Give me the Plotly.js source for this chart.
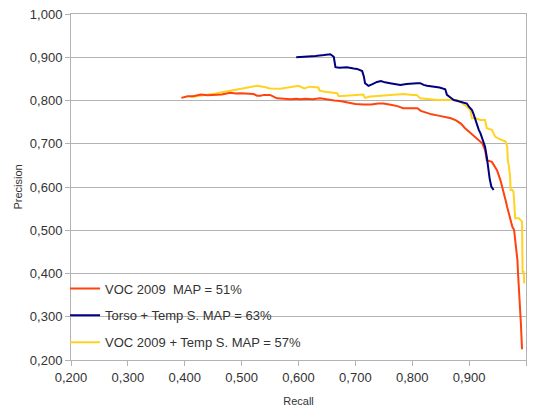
<!DOCTYPE html>
<html>
<head>
<meta charset="utf-8">
<script src="https://cdn.plot.ly/plotly-3.0.1.min.js"></script>
<style>html,body{margin:0;padding:0;background:#fff;}#chart{width:536px;height:407px;}</style>
</head>
<body>
<div id="chart"></div>
<script>
// VOC 2009  MAP = 51%
const vocRecall = [0.394,0.405,0.415,0.428,0.440,0.450,0.465,0.480,0.490,0.498,0.508,0.515,0.521,0.527,0.533,0.540,0.550,0.556,0.562,0.575,0.586,0.596,0.603,0.612,0.625,0.638,0.650,0.663,0.673,0.685,0.700,0.714,0.728,0.740,0.749,0.762,0.774,0.784,0.796,0.809,0.815,0.822,0.834,0.846,0.858,0.868,0.877,0.886,0.892,0.900,0.906,0.914,0.923,0.928,0.931,0.940,0.949,0.955,0.960,0.964,0.967,0.970,0.973,0.976,0.979,0.981,0.983,0.985,0.986,0.987,0.988,0.989,0.990,0.991,0.992,0.993];
const vocPrecision = [0.806,0.810,0.810,0.814,0.812,0.813,0.814,0.818,0.816,0.817,0.816,0.814,0.815,0.811,0.811,0.813,0.813,0.809,0.805,0.804,0.803,0.804,0.803,0.804,0.803,0.805,0.802,0.800,0.799,0.796,0.792,0.791,0.791,0.793,0.793,0.790,0.787,0.782,0.782,0.782,0.776,0.773,0.768,0.765,0.762,0.759,0.754,0.746,0.737,0.728,0.722,0.713,0.701,0.686,0.662,0.658,0.639,0.616,0.593,0.570,0.553,0.539,0.522,0.508,0.501,0.477,0.455,0.430,0.400,0.380,0.362,0.330,0.300,0.285,0.255,0.225];

// Torso + Temp S. MAP = 63%
const torsoRecall = [0.596,0.615,0.630,0.645,0.656,0.662,0.665,0.672,0.685,0.697,0.703,0.712,0.715,0.717,0.723,0.730,0.738,0.745,0.752,0.761,0.770,0.779,0.790,0.800,0.808,0.814,0.820,0.826,0.838,0.848,0.858,0.861,0.866,0.873,0.880,0.890,0.896,0.900,0.905,0.908,0.911,0.914,0.917,0.920,0.923,0.926,0.928,0.931,0.934,0.936,0.939,0.941,0.943];
const torsoPrecision = [0.900,0.901,0.903,0.905,0.907,0.901,0.877,0.876,0.877,0.874,0.873,0.868,0.855,0.840,0.834,0.838,0.843,0.845,0.842,0.840,0.838,0.836,0.838,0.840,0.840,0.840,0.836,0.834,0.832,0.830,0.826,0.813,0.808,0.801,0.799,0.796,0.793,0.785,0.778,0.768,0.755,0.745,0.732,0.724,0.713,0.705,0.693,0.670,0.639,0.620,0.601,0.597,0.593];

// VOC 2009 + Temp S. MAP = 57%
const vocTempRecall = [0.410,0.424,0.440,0.455,0.470,0.486,0.503,0.515,0.527,0.540,0.550,0.568,0.585,0.600,0.610,0.620,0.635,0.637,0.647,0.660,0.668,0.671,0.690,0.714,0.717,0.726,0.745,0.765,0.785,0.800,0.808,0.814,0.830,0.844,0.860,0.879,0.884,0.892,0.896,0.902,0.905,0.911,0.920,0.928,0.931,0.940,0.946,0.955,0.964,0.967,0.968,0.970,0.972,0.973,0.976,0.978,0.980,0.981,0.984,0.987,0.993,0.993,0.994,0.996,0.997];
const vocTempPrecision = [0.808,0.810,0.813,0.816,0.820,0.824,0.827,0.830,0.834,0.831,0.828,0.827,0.830,0.834,0.828,0.832,0.830,0.823,0.820,0.818,0.817,0.810,0.812,0.814,0.806,0.809,0.811,0.813,0.815,0.813,0.813,0.805,0.803,0.801,0.801,0.801,0.797,0.790,0.786,0.778,0.759,0.759,0.755,0.755,0.736,0.732,0.716,0.710,0.705,0.693,0.662,0.647,0.624,0.593,0.593,0.589,0.535,0.528,0.528,0.528,0.520,0.412,0.404,0.404,0.377];

const seriesNames = ['VOC 2009  MAP = 51%', 'Torso + Temp S. MAP = 63%', 'VOC 2009 + Temp S. MAP = 57%'];
const tickVals = [0.2,0.3,0.4,0.5,0.6,0.7,0.8,0.9,1.0];

const traces = [
  {x: vocTempRecall, y: vocTempPrecision, name: seriesNames[2], legendrank: 3, legendgroup: 'c',
   mode: 'lines', line: {color: '#ffd320', width: 2}},
  {x: vocRecall, y: vocPrecision, name: seriesNames[0], legendrank: 1, legendgroup: 'a',
   mode: 'lines', line: {color: '#ff420e', width: 2}},
  {x: torsoRecall, y: torsoPrecision, name: seriesNames[1], legendrank: 2, legendgroup: 'b',
   mode: 'lines', line: {color: '#000080', width: 2}}
];

const axisCommon = {
  range: [0.2, 1.0], tickvals: tickVals, tickformat: '.3f',
  showgrid: false, zeroline: false, showline: true, mirror: true,
  linecolor: '#b3b3b3', linewidth: 1, ticks: 'outside', ticklen: 5, tickcolor: '#b3b3b3',
  tickfont: {family: 'Liberation Sans, Arial, sans-serif', size: 13, color: '#333333'}
};

const layout = {
  width: 536, height: 407,
  margin: {l: 71, r: 10, t: 14, b: 47, pad: 0},
  separators: ',.',
  paper_bgcolor: '#ffffff', plot_bgcolor: '#ffffff',
  font: {family: 'Liberation Sans, Arial, sans-serif', color: '#333333'},
  showlegend: true,
  legend: {x: -0.013, xanchor: 'left', y: 0.25, yanchor: 'top', bgcolor: 'rgba(0,0,0,0)',
           traceorder: 'grouped', tracegroupgap: 7,
           font: {family: 'Liberation Sans, Arial, sans-serif', size: 13, color: '#333333'}},
  xaxis: Object.assign({}, axisCommon, {
    title: {text: 'Recall', font: {size: 11, color: '#333333'}, standoff: 23},
    automargin: false
  }),
  yaxis: Object.assign({}, axisCommon, {
    showgrid: true, gridcolor: '#b3b3b3', gridwidth: 1,
    title: {text: 'Precision', font: {size: 11, color: '#333333'}, standoff: 5},
    automargin: false
  })
};

Plotly.newPlot('chart', traces, layout, {displayModeBar: false, staticPlot: true});
</script>
</body>
</html>
